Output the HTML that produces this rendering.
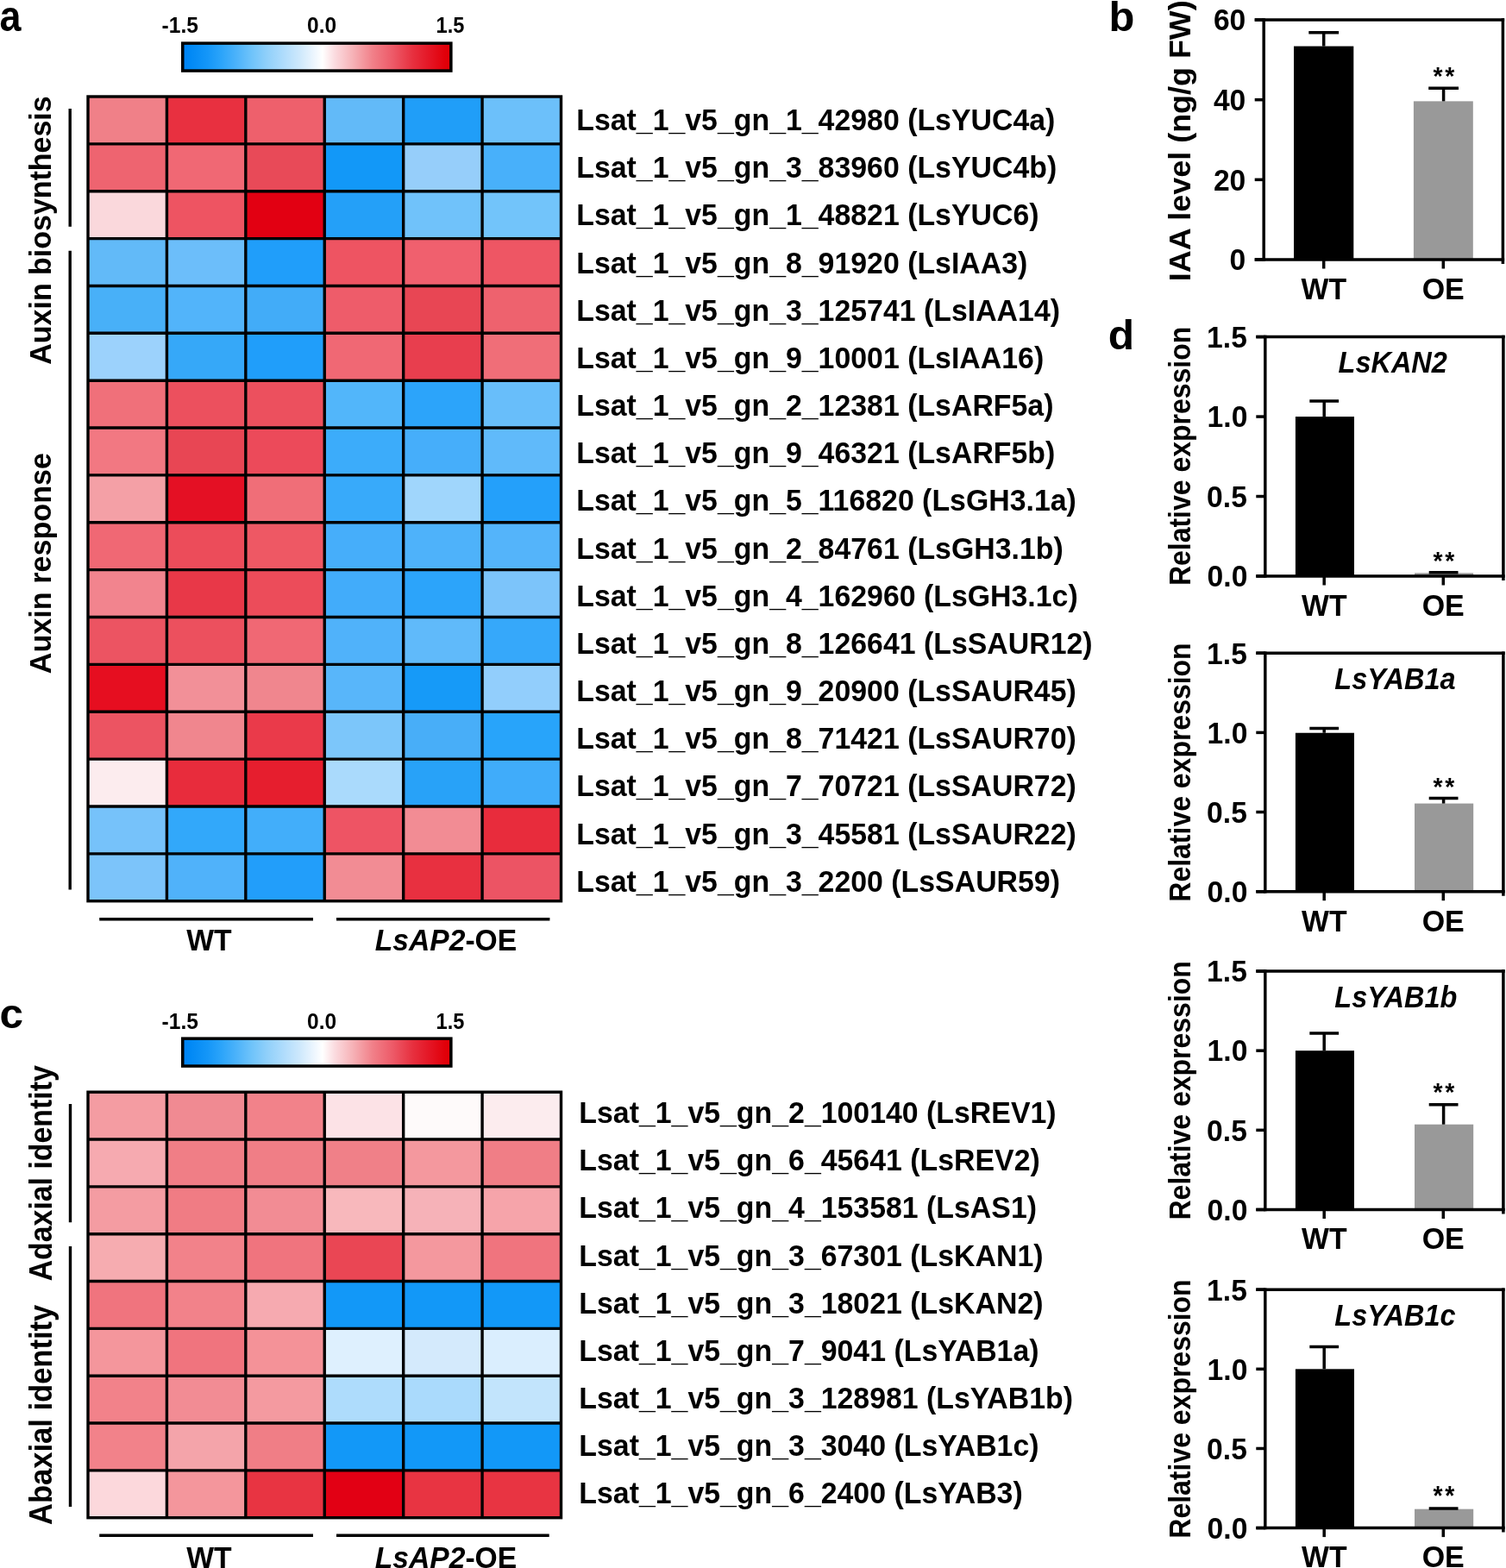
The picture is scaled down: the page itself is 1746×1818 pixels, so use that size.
<!DOCTYPE html>
<html><head><meta charset="utf-8"><title>Figure</title>
<style>
html,body{margin:0;padding:0;background:#fff;}
svg{display:block;}
text{font-family:"Liberation Sans",Arial,sans-serif;}
</style></head>
<body>
<svg width="1746" height="1818" viewBox="0 0 1746 1818">
<defs>
<linearGradient id="cb" x1="0" y1="0" x2="1" y2="0">
<stop offset="0.000" stop-color="rgb(0,130,245)"/>
<stop offset="0.025" stop-color="rgb(0,136,245)"/>
<stop offset="0.092" stop-color="rgb(20,150,248)"/>
<stop offset="0.147" stop-color="rgb(45,165,250)"/>
<stop offset="0.199" stop-color="rgb(75,178,250)"/>
<stop offset="0.256" stop-color="rgb(110,195,250)"/>
<stop offset="0.316" stop-color="rgb(145,208,250)"/>
<stop offset="0.376" stop-color="rgb(175,220,252)"/>
<stop offset="0.435" stop-color="rgb(205,232,252)"/>
<stop offset="0.486" stop-color="rgb(235,245,254)"/>
<stop offset="0.521" stop-color="rgb(255,255,255)"/>
<stop offset="0.566" stop-color="rgb(251,220,224)"/>
<stop offset="0.634" stop-color="rgb(246,178,183)"/>
<stop offset="0.708" stop-color="rgb(241,128,137)"/>
<stop offset="0.783" stop-color="rgb(237,90,104)"/>
<stop offset="0.857" stop-color="rgb(231,48,63)"/>
<stop offset="0.924" stop-color="rgb(228,20,35)"/>
<stop offset="0.977" stop-color="rgb(225,0,10)"/>
<stop offset="1.000" stop-color="rgb(224,0,5)"/>
</linearGradient>
</defs>
<rect x="0" y="0" width="1746" height="1818" fill="#fff"/>
<text transform="translate(-0.45,36.40) scale(1,1.1105)" font-size="44.860" style="font-weight:bold;" fill="#000">a</text>
<rect x="211.75" y="50.15" width="311.1" height="31.90" fill="url(#cb)" stroke="#000" stroke-width="3.5"/>
<text transform="translate(187.62,38.10) scale(1,1.0372)" font-size="24.592" style="font-weight:bold;" fill="#000">-1.5</text>
<text transform="translate(356.02,37.70) scale(1,1.0261)" font-size="24.504" style="font-weight:bold;" fill="#000">0.0</text>
<text transform="translate(505.58,37.70) scale(1,1.0807)" font-size="23.602" style="font-weight:bold;" fill="#000">1.5</text>
<rect x="102.00" y="112.00" width="91.42" height="54.86" fill="rgb(240,128,136)"/>
<rect x="193.42" y="112.00" width="91.42" height="54.86" fill="rgb(232,48,64)"/>
<rect x="284.83" y="112.00" width="91.42" height="54.86" fill="rgb(238,96,108)"/>
<rect x="376.25" y="112.00" width="91.42" height="54.86" fill="rgb(98,186,248)"/>
<rect x="467.67" y="112.00" width="91.42" height="54.86" fill="rgb(32,158,248)"/>
<rect x="559.08" y="112.00" width="91.42" height="54.86" fill="rgb(108,192,250)"/>
<rect x="102.00" y="166.86" width="91.42" height="54.86" fill="rgb(238,100,112)"/>
<rect x="193.42" y="166.86" width="91.42" height="54.86" fill="rgb(240,104,116)"/>
<rect x="284.83" y="166.86" width="91.42" height="54.86" fill="rgb(232,74,88)"/>
<rect x="376.25" y="166.86" width="91.42" height="54.86" fill="rgb(18,152,248)"/>
<rect x="467.67" y="166.86" width="91.42" height="54.86" fill="rgb(150,206,250)"/>
<rect x="559.08" y="166.86" width="91.42" height="54.86" fill="rgb(72,176,250)"/>
<rect x="102.00" y="221.73" width="91.42" height="54.86" fill="rgb(250,216,220)"/>
<rect x="193.42" y="221.73" width="91.42" height="54.86" fill="rgb(238,84,98)"/>
<rect x="284.83" y="221.73" width="91.42" height="54.86" fill="rgb(226,0,18)"/>
<rect x="376.25" y="221.73" width="91.42" height="54.86" fill="rgb(36,160,248)"/>
<rect x="467.67" y="221.73" width="91.42" height="54.86" fill="rgb(112,194,250)"/>
<rect x="559.08" y="221.73" width="91.42" height="54.86" fill="rgb(114,196,250)"/>
<rect x="102.00" y="276.59" width="91.42" height="54.86" fill="rgb(98,186,248)"/>
<rect x="193.42" y="276.59" width="91.42" height="54.86" fill="rgb(108,190,250)"/>
<rect x="284.83" y="276.59" width="91.42" height="54.86" fill="rgb(32,158,250)"/>
<rect x="376.25" y="276.59" width="91.42" height="54.86" fill="rgb(238,84,98)"/>
<rect x="467.67" y="276.59" width="91.42" height="54.86" fill="rgb(240,96,110)"/>
<rect x="559.08" y="276.59" width="91.42" height="54.86" fill="rgb(238,86,100)"/>
<rect x="102.00" y="331.46" width="91.42" height="54.86" fill="rgb(72,176,248)"/>
<rect x="193.42" y="331.46" width="91.42" height="54.86" fill="rgb(82,180,250)"/>
<rect x="284.83" y="331.46" width="91.42" height="54.86" fill="rgb(66,172,248)"/>
<rect x="376.25" y="331.46" width="91.42" height="54.86" fill="rgb(238,92,106)"/>
<rect x="467.67" y="331.46" width="91.42" height="54.86" fill="rgb(232,70,84)"/>
<rect x="559.08" y="331.46" width="91.42" height="54.86" fill="rgb(238,98,110)"/>
<rect x="102.00" y="386.32" width="91.42" height="54.86" fill="rgb(156,210,252)"/>
<rect x="193.42" y="386.32" width="91.42" height="54.86" fill="rgb(54,168,248)"/>
<rect x="284.83" y="386.32" width="91.42" height="54.86" fill="rgb(32,158,250)"/>
<rect x="376.25" y="386.32" width="91.42" height="54.86" fill="rgb(240,104,116)"/>
<rect x="467.67" y="386.32" width="91.42" height="54.86" fill="rgb(232,62,78)"/>
<rect x="559.08" y="386.32" width="91.42" height="54.86" fill="rgb(240,110,120)"/>
<rect x="102.00" y="441.19" width="91.42" height="54.86" fill="rgb(240,112,122)"/>
<rect x="193.42" y="441.19" width="91.42" height="54.86" fill="rgb(236,80,94)"/>
<rect x="284.83" y="441.19" width="91.42" height="54.86" fill="rgb(236,80,94)"/>
<rect x="376.25" y="441.19" width="91.42" height="54.86" fill="rgb(82,182,250)"/>
<rect x="467.67" y="441.19" width="91.42" height="54.86" fill="rgb(44,164,250)"/>
<rect x="559.08" y="441.19" width="91.42" height="54.86" fill="rgb(104,190,250)"/>
<rect x="102.00" y="496.05" width="91.42" height="54.86" fill="rgb(242,120,130)"/>
<rect x="193.42" y="496.05" width="91.42" height="54.86" fill="rgb(232,70,84)"/>
<rect x="284.83" y="496.05" width="91.42" height="54.86" fill="rgb(236,74,90)"/>
<rect x="376.25" y="496.05" width="91.42" height="54.86" fill="rgb(60,172,250)"/>
<rect x="467.67" y="496.05" width="91.42" height="54.86" fill="rgb(70,174,250)"/>
<rect x="559.08" y="496.05" width="91.42" height="54.86" fill="rgb(96,186,250)"/>
<rect x="102.00" y="550.92" width="91.42" height="54.86" fill="rgb(244,160,166)"/>
<rect x="193.42" y="550.92" width="91.42" height="54.86" fill="rgb(228,16,36)"/>
<rect x="284.83" y="550.92" width="91.42" height="54.86" fill="rgb(240,110,120)"/>
<rect x="376.25" y="550.92" width="91.42" height="54.86" fill="rgb(56,170,250)"/>
<rect x="467.67" y="550.92" width="91.42" height="54.86" fill="rgb(160,214,252)"/>
<rect x="559.08" y="550.92" width="91.42" height="54.86" fill="rgb(36,160,250)"/>
<rect x="102.00" y="605.78" width="91.42" height="54.86" fill="rgb(240,104,116)"/>
<rect x="193.42" y="605.78" width="91.42" height="54.86" fill="rgb(236,76,90)"/>
<rect x="284.83" y="605.78" width="91.42" height="54.86" fill="rgb(238,88,100)"/>
<rect x="376.25" y="605.78" width="91.42" height="54.86" fill="rgb(70,174,250)"/>
<rect x="467.67" y="605.78" width="91.42" height="54.86" fill="rgb(78,178,250)"/>
<rect x="559.08" y="605.78" width="91.42" height="54.86" fill="rgb(84,180,250)"/>
<rect x="102.00" y="660.65" width="91.42" height="54.86" fill="rgb(242,132,142)"/>
<rect x="193.42" y="660.65" width="91.42" height="54.86" fill="rgb(232,56,72)"/>
<rect x="284.83" y="660.65" width="91.42" height="54.86" fill="rgb(236,76,90)"/>
<rect x="376.25" y="660.65" width="91.42" height="54.86" fill="rgb(66,172,250)"/>
<rect x="467.67" y="660.65" width="91.42" height="54.86" fill="rgb(44,164,250)"/>
<rect x="559.08" y="660.65" width="91.42" height="54.86" fill="rgb(124,196,250)"/>
<rect x="102.00" y="715.51" width="91.42" height="54.86" fill="rgb(236,84,98)"/>
<rect x="193.42" y="715.51" width="91.42" height="54.86" fill="rgb(236,80,94)"/>
<rect x="284.83" y="715.51" width="91.42" height="54.86" fill="rgb(240,104,116)"/>
<rect x="376.25" y="715.51" width="91.42" height="54.86" fill="rgb(80,178,250)"/>
<rect x="467.67" y="715.51" width="91.42" height="54.86" fill="rgb(96,186,250)"/>
<rect x="559.08" y="715.51" width="91.42" height="54.86" fill="rgb(54,168,250)"/>
<rect x="102.00" y="770.38" width="91.42" height="54.86" fill="rgb(230,14,32)"/>
<rect x="193.42" y="770.38" width="91.42" height="54.86" fill="rgb(242,144,152)"/>
<rect x="284.83" y="770.38" width="91.42" height="54.86" fill="rgb(240,134,142)"/>
<rect x="376.25" y="770.38" width="91.42" height="54.86" fill="rgb(88,182,250)"/>
<rect x="467.67" y="770.38" width="91.42" height="54.86" fill="rgb(22,154,248)"/>
<rect x="559.08" y="770.38" width="91.42" height="54.86" fill="rgb(146,206,252)"/>
<rect x="102.00" y="825.24" width="91.42" height="54.86" fill="rgb(236,84,98)"/>
<rect x="193.42" y="825.24" width="91.42" height="54.86" fill="rgb(240,134,142)"/>
<rect x="284.83" y="825.24" width="91.42" height="54.86" fill="rgb(234,58,74)"/>
<rect x="376.25" y="825.24" width="91.42" height="54.86" fill="rgb(124,198,250)"/>
<rect x="467.67" y="825.24" width="91.42" height="54.86" fill="rgb(72,174,248)"/>
<rect x="559.08" y="825.24" width="91.42" height="54.86" fill="rgb(40,164,250)"/>
<rect x="102.00" y="880.11" width="91.42" height="54.86" fill="rgb(252,236,238)"/>
<rect x="193.42" y="880.11" width="91.42" height="54.86" fill="rgb(232,44,60)"/>
<rect x="284.83" y="880.11" width="91.42" height="54.86" fill="rgb(230,30,46)"/>
<rect x="376.25" y="880.11" width="91.42" height="54.86" fill="rgb(170,218,252)"/>
<rect x="467.67" y="880.11" width="91.42" height="54.86" fill="rgb(40,162,248)"/>
<rect x="559.08" y="880.11" width="91.42" height="54.86" fill="rgb(64,172,250)"/>
<rect x="102.00" y="934.97" width="91.42" height="54.86" fill="rgb(118,194,250)"/>
<rect x="193.42" y="934.97" width="91.42" height="54.86" fill="rgb(50,168,250)"/>
<rect x="284.83" y="934.97" width="91.42" height="54.86" fill="rgb(66,174,250)"/>
<rect x="376.25" y="934.97" width="91.42" height="54.86" fill="rgb(238,84,100)"/>
<rect x="467.67" y="934.97" width="91.42" height="54.86" fill="rgb(242,140,148)"/>
<rect x="559.08" y="934.97" width="91.42" height="54.86" fill="rgb(232,44,60)"/>
<rect x="102.00" y="989.84" width="91.42" height="54.86" fill="rgb(124,196,250)"/>
<rect x="193.42" y="989.84" width="91.42" height="54.86" fill="rgb(80,178,250)"/>
<rect x="284.83" y="989.84" width="91.42" height="54.86" fill="rgb(34,158,250)"/>
<rect x="376.25" y="989.84" width="91.42" height="54.86" fill="rgb(242,140,148)"/>
<rect x="467.67" y="989.84" width="91.42" height="54.86" fill="rgb(232,48,64)"/>
<rect x="559.08" y="989.84" width="91.42" height="54.86" fill="rgb(236,84,100)"/>
<line x1="193.42" y1="112.00" x2="193.42" y2="1044.70" stroke="#000" stroke-width="3.4" stroke-linecap="butt"/>
<line x1="284.83" y1="112.00" x2="284.83" y2="1044.70" stroke="#000" stroke-width="3.4" stroke-linecap="butt"/>
<line x1="376.25" y1="112.00" x2="376.25" y2="1044.70" stroke="#000" stroke-width="3.4" stroke-linecap="butt"/>
<line x1="467.67" y1="112.00" x2="467.67" y2="1044.70" stroke="#000" stroke-width="3.4" stroke-linecap="butt"/>
<line x1="559.08" y1="112.00" x2="559.08" y2="1044.70" stroke="#000" stroke-width="3.4" stroke-linecap="butt"/>
<line x1="102.00" y1="166.86" x2="650.50" y2="166.86" stroke="#000" stroke-width="3.4" stroke-linecap="butt"/>
<line x1="102.00" y1="221.73" x2="650.50" y2="221.73" stroke="#000" stroke-width="3.4" stroke-linecap="butt"/>
<line x1="102.00" y1="276.59" x2="650.50" y2="276.59" stroke="#000" stroke-width="3.4" stroke-linecap="butt"/>
<line x1="102.00" y1="331.46" x2="650.50" y2="331.46" stroke="#000" stroke-width="3.4" stroke-linecap="butt"/>
<line x1="102.00" y1="386.32" x2="650.50" y2="386.32" stroke="#000" stroke-width="3.4" stroke-linecap="butt"/>
<line x1="102.00" y1="441.19" x2="650.50" y2="441.19" stroke="#000" stroke-width="3.4" stroke-linecap="butt"/>
<line x1="102.00" y1="496.05" x2="650.50" y2="496.05" stroke="#000" stroke-width="3.4" stroke-linecap="butt"/>
<line x1="102.00" y1="550.92" x2="650.50" y2="550.92" stroke="#000" stroke-width="3.4" stroke-linecap="butt"/>
<line x1="102.00" y1="605.78" x2="650.50" y2="605.78" stroke="#000" stroke-width="3.4" stroke-linecap="butt"/>
<line x1="102.00" y1="660.65" x2="650.50" y2="660.65" stroke="#000" stroke-width="3.4" stroke-linecap="butt"/>
<line x1="102.00" y1="715.51" x2="650.50" y2="715.51" stroke="#000" stroke-width="3.4" stroke-linecap="butt"/>
<line x1="102.00" y1="770.38" x2="650.50" y2="770.38" stroke="#000" stroke-width="3.4" stroke-linecap="butt"/>
<line x1="102.00" y1="825.24" x2="650.50" y2="825.24" stroke="#000" stroke-width="3.4" stroke-linecap="butt"/>
<line x1="102.00" y1="880.11" x2="650.50" y2="880.11" stroke="#000" stroke-width="3.4" stroke-linecap="butt"/>
<line x1="102.00" y1="934.97" x2="650.50" y2="934.97" stroke="#000" stroke-width="3.4" stroke-linecap="butt"/>
<line x1="102.00" y1="989.84" x2="650.50" y2="989.84" stroke="#000" stroke-width="3.4" stroke-linecap="butt"/>
<rect x="102.00" y="112.00" width="548.50" height="932.70" fill="none" stroke="#000" stroke-width="3.4"/>
<text transform="translate(668.20,151.15) scale(1,1.0487)" font-size="33.859" style="font-weight:bold;" fill="#000">Lsat_1_v5_gn_1_42980 (LsYUC4a)</text>
<text transform="translate(668.20,206.31) scale(1,1.0487)" font-size="33.859" style="font-weight:bold;" fill="#000">Lsat_1_v5_gn_3_83960 (LsYUC4b)</text>
<text transform="translate(668.20,261.47) scale(1,1.0487)" font-size="33.859" style="font-weight:bold;" fill="#000">Lsat_1_v5_gn_1_48821 (LsYUC6)</text>
<text transform="translate(668.20,316.63) scale(1,1.0487)" font-size="33.859" style="font-weight:bold;" fill="#000">Lsat_1_v5_gn_8_91920 (LsIAA3)</text>
<text transform="translate(668.20,371.79) scale(1,1.0487)" font-size="33.859" style="font-weight:bold;" fill="#000">Lsat_1_v5_gn_3_125741 (LsIAA14)</text>
<text transform="translate(668.20,426.95) scale(1,1.0487)" font-size="33.859" style="font-weight:bold;" fill="#000">Lsat_1_v5_gn_9_10001 (LsIAA16)</text>
<text transform="translate(668.20,482.11) scale(1,1.0487)" font-size="33.859" style="font-weight:bold;" fill="#000">Lsat_1_v5_gn_2_12381 (LsARF5a)</text>
<text transform="translate(668.20,537.27) scale(1,1.0487)" font-size="33.859" style="font-weight:bold;" fill="#000">Lsat_1_v5_gn_9_46321 (LsARF5b)</text>
<text transform="translate(668.20,592.43) scale(1,1.0487)" font-size="33.859" style="font-weight:bold;" fill="#000">Lsat_1_v5_gn_5_116820 (LsGH3.1a)</text>
<text transform="translate(668.20,647.59) scale(1,1.0487)" font-size="33.859" style="font-weight:bold;" fill="#000">Lsat_1_v5_gn_2_84761 (LsGH3.1b)</text>
<text transform="translate(668.20,702.75) scale(1,1.0487)" font-size="33.859" style="font-weight:bold;" fill="#000">Lsat_1_v5_gn_4_162960 (LsGH3.1c)</text>
<text transform="translate(668.20,757.91) scale(1,1.0487)" font-size="33.859" style="font-weight:bold;" fill="#000">Lsat_1_v5_gn_8_126641 (LsSAUR12)</text>
<text transform="translate(668.20,813.07) scale(1,1.0487)" font-size="33.859" style="font-weight:bold;" fill="#000">Lsat_1_v5_gn_9_20900 (LsSAUR45)</text>
<text transform="translate(668.20,868.23) scale(1,1.0487)" font-size="33.859" style="font-weight:bold;" fill="#000">Lsat_1_v5_gn_8_71421 (LsSAUR70)</text>
<text transform="translate(668.20,923.39) scale(1,1.0487)" font-size="33.859" style="font-weight:bold;" fill="#000">Lsat_1_v5_gn_7_70721 (LsSAUR72)</text>
<text transform="translate(668.20,978.55) scale(1,1.0487)" font-size="33.859" style="font-weight:bold;" fill="#000">Lsat_1_v5_gn_3_45581 (LsSAUR22)</text>
<text transform="translate(668.20,1033.71) scale(1,1.0487)" font-size="33.859" style="font-weight:bold;" fill="#000">Lsat_1_v5_gn_3_2200 (LsSAUR59)</text>
<text transform="translate(58.80,422.65) rotate(-90) scale(1,1.0282)" font-size="33.970" style="font-weight:bold;" fill="#000">Auxin biosynthesis</text>
<text transform="translate(58.80,781.25) rotate(-90) scale(1,1.0223)" font-size="34.167" style="font-weight:bold;" fill="#000">Auxin response</text>
<line x1="81.20" y1="126.00" x2="81.20" y2="262.80" stroke="#000" stroke-width="3.4" stroke-linecap="butt"/>
<line x1="81.20" y1="290.70" x2="81.20" y2="1031.60" stroke="#000" stroke-width="3.4" stroke-linecap="butt"/>
<line x1="115.20" y1="1065.80" x2="363.00" y2="1065.80" stroke="#000" stroke-width="3.6" stroke-linecap="butt"/>
<line x1="390.00" y1="1065.80" x2="637.40" y2="1065.80" stroke="#000" stroke-width="3.6" stroke-linecap="butt"/>
<text transform="translate(216.30,1102.10) scale(1,1.0530)" font-size="33.722" style="font-weight:bold;" fill="#000">WT</text>
<text transform="translate(434.63,1102.10) scale(1,1.0545)" font-size="33.671" style="font-weight:bold;font-style:italic;" fill="#000"><tspan style="font-style:italic">LsAP2</tspan><tspan style="font-style:normal">-OE</tspan></text>
<text transform="translate(-0.58,1191.90) scale(1,0.9767)" font-size="49.485" style="font-weight:bold;" fill="#000">c</text>
<rect x="211.75" y="1204.15" width="311.1" height="31.90" fill="url(#cb)" stroke="#000" stroke-width="3.5"/>
<text transform="translate(187.62,1193.10) scale(1,1.0372)" font-size="24.592" style="font-weight:bold;" fill="#000">-1.5</text>
<text transform="translate(356.02,1192.70) scale(1,1.0261)" font-size="24.504" style="font-weight:bold;" fill="#000">0.0</text>
<text transform="translate(505.58,1192.70) scale(1,1.0807)" font-size="23.602" style="font-weight:bold;" fill="#000">1.5</text>
<rect x="102.00" y="1266.20" width="91.42" height="54.83" fill="rgb(244,156,162)"/>
<rect x="193.42" y="1266.20" width="91.42" height="54.83" fill="rgb(240,138,146)"/>
<rect x="284.83" y="1266.20" width="91.42" height="54.83" fill="rgb(242,130,138)"/>
<rect x="376.25" y="1266.20" width="91.42" height="54.83" fill="rgb(252,226,230)"/>
<rect x="467.67" y="1266.20" width="91.42" height="54.83" fill="rgb(254,250,250)"/>
<rect x="559.08" y="1266.20" width="91.42" height="54.83" fill="rgb(252,236,238)"/>
<rect x="102.00" y="1321.03" width="91.42" height="54.83" fill="rgb(246,170,176)"/>
<rect x="193.42" y="1321.03" width="91.42" height="54.83" fill="rgb(240,126,134)"/>
<rect x="284.83" y="1321.03" width="91.42" height="54.83" fill="rgb(240,126,134)"/>
<rect x="376.25" y="1321.03" width="91.42" height="54.83" fill="rgb(240,128,136)"/>
<rect x="467.67" y="1321.03" width="91.42" height="54.83" fill="rgb(244,152,158)"/>
<rect x="559.08" y="1321.03" width="91.42" height="54.83" fill="rgb(240,126,134)"/>
<rect x="102.00" y="1375.87" width="91.42" height="54.83" fill="rgb(244,156,162)"/>
<rect x="193.42" y="1375.87" width="91.42" height="54.83" fill="rgb(240,124,132)"/>
<rect x="284.83" y="1375.87" width="91.42" height="54.83" fill="rgb(242,140,148)"/>
<rect x="376.25" y="1375.87" width="91.42" height="54.83" fill="rgb(248,184,188)"/>
<rect x="467.67" y="1375.87" width="91.42" height="54.83" fill="rgb(246,178,184)"/>
<rect x="559.08" y="1375.87" width="91.42" height="54.83" fill="rgb(246,164,170)"/>
<rect x="102.00" y="1430.70" width="91.42" height="54.83" fill="rgb(246,172,176)"/>
<rect x="193.42" y="1430.70" width="91.42" height="54.83" fill="rgb(242,130,138)"/>
<rect x="284.83" y="1430.70" width="91.42" height="54.83" fill="rgb(240,116,126)"/>
<rect x="376.25" y="1430.70" width="91.42" height="54.83" fill="rgb(234,70,84)"/>
<rect x="467.67" y="1430.70" width="91.42" height="54.83" fill="rgb(244,152,158)"/>
<rect x="559.08" y="1430.70" width="91.42" height="54.83" fill="rgb(240,116,126)"/>
<rect x="102.00" y="1485.53" width="91.42" height="54.83" fill="rgb(240,116,126)"/>
<rect x="193.42" y="1485.53" width="91.42" height="54.83" fill="rgb(242,130,138)"/>
<rect x="284.83" y="1485.53" width="91.42" height="54.83" fill="rgb(246,170,176)"/>
<rect x="376.25" y="1485.53" width="91.42" height="54.83" fill="rgb(18,152,248)"/>
<rect x="467.67" y="1485.53" width="91.42" height="54.83" fill="rgb(18,152,248)"/>
<rect x="559.08" y="1485.53" width="91.42" height="54.83" fill="rgb(18,152,248)"/>
<rect x="102.00" y="1540.37" width="91.42" height="54.83" fill="rgb(244,150,156)"/>
<rect x="193.42" y="1540.37" width="91.42" height="54.83" fill="rgb(240,116,126)"/>
<rect x="284.83" y="1540.37" width="91.42" height="54.83" fill="rgb(244,146,152)"/>
<rect x="376.25" y="1540.37" width="91.42" height="54.83" fill="rgb(222,240,254)"/>
<rect x="467.67" y="1540.37" width="91.42" height="54.83" fill="rgb(212,234,252)"/>
<rect x="559.08" y="1540.37" width="91.42" height="54.83" fill="rgb(218,238,254)"/>
<rect x="102.00" y="1595.20" width="91.42" height="54.83" fill="rgb(242,130,138)"/>
<rect x="193.42" y="1595.20" width="91.42" height="54.83" fill="rgb(242,140,148)"/>
<rect x="284.83" y="1595.20" width="91.42" height="54.83" fill="rgb(244,154,160)"/>
<rect x="376.25" y="1595.20" width="91.42" height="54.83" fill="rgb(174,220,252)"/>
<rect x="467.67" y="1595.20" width="91.42" height="54.83" fill="rgb(170,218,252)"/>
<rect x="559.08" y="1595.20" width="91.42" height="54.83" fill="rgb(194,228,252)"/>
<rect x="102.00" y="1650.03" width="91.42" height="54.83" fill="rgb(242,130,138)"/>
<rect x="193.42" y="1650.03" width="91.42" height="54.83" fill="rgb(244,164,170)"/>
<rect x="284.83" y="1650.03" width="91.42" height="54.83" fill="rgb(240,126,134)"/>
<rect x="376.25" y="1650.03" width="91.42" height="54.83" fill="rgb(18,152,248)"/>
<rect x="467.67" y="1650.03" width="91.42" height="54.83" fill="rgb(18,152,248)"/>
<rect x="559.08" y="1650.03" width="91.42" height="54.83" fill="rgb(18,152,248)"/>
<rect x="102.00" y="1704.87" width="91.42" height="54.83" fill="rgb(252,216,220)"/>
<rect x="193.42" y="1704.87" width="91.42" height="54.83" fill="rgb(244,150,156)"/>
<rect x="284.83" y="1704.87" width="91.42" height="54.83" fill="rgb(232,52,66)"/>
<rect x="376.25" y="1704.87" width="91.42" height="54.83" fill="rgb(226,0,20)"/>
<rect x="467.67" y="1704.87" width="91.42" height="54.83" fill="rgb(232,52,66)"/>
<rect x="559.08" y="1704.87" width="91.42" height="54.83" fill="rgb(232,52,66)"/>
<line x1="193.42" y1="1266.20" x2="193.42" y2="1759.70" stroke="#000" stroke-width="3.4" stroke-linecap="butt"/>
<line x1="284.83" y1="1266.20" x2="284.83" y2="1759.70" stroke="#000" stroke-width="3.4" stroke-linecap="butt"/>
<line x1="376.25" y1="1266.20" x2="376.25" y2="1759.70" stroke="#000" stroke-width="3.4" stroke-linecap="butt"/>
<line x1="467.67" y1="1266.20" x2="467.67" y2="1759.70" stroke="#000" stroke-width="3.4" stroke-linecap="butt"/>
<line x1="559.08" y1="1266.20" x2="559.08" y2="1759.70" stroke="#000" stroke-width="3.4" stroke-linecap="butt"/>
<line x1="102.00" y1="1321.03" x2="650.50" y2="1321.03" stroke="#000" stroke-width="3.4" stroke-linecap="butt"/>
<line x1="102.00" y1="1375.87" x2="650.50" y2="1375.87" stroke="#000" stroke-width="3.4" stroke-linecap="butt"/>
<line x1="102.00" y1="1430.70" x2="650.50" y2="1430.70" stroke="#000" stroke-width="3.4" stroke-linecap="butt"/>
<line x1="102.00" y1="1485.53" x2="650.50" y2="1485.53" stroke="#000" stroke-width="3.4" stroke-linecap="butt"/>
<line x1="102.00" y1="1540.37" x2="650.50" y2="1540.37" stroke="#000" stroke-width="3.4" stroke-linecap="butt"/>
<line x1="102.00" y1="1595.20" x2="650.50" y2="1595.20" stroke="#000" stroke-width="3.4" stroke-linecap="butt"/>
<line x1="102.00" y1="1650.03" x2="650.50" y2="1650.03" stroke="#000" stroke-width="3.4" stroke-linecap="butt"/>
<line x1="102.00" y1="1704.87" x2="650.50" y2="1704.87" stroke="#000" stroke-width="3.4" stroke-linecap="butt"/>
<rect x="102.00" y="1266.20" width="548.50" height="493.50" fill="none" stroke="#000" stroke-width="3.4"/>
<text transform="translate(671.30,1302.05) scale(1,1.0487)" font-size="33.859" style="font-weight:bold;" fill="#000">Lsat_1_v5_gn_2_100140 (LsREV1)</text>
<text transform="translate(671.30,1357.21) scale(1,1.0487)" font-size="33.859" style="font-weight:bold;" fill="#000">Lsat_1_v5_gn_6_45641 (LsREV2)</text>
<text transform="translate(671.30,1412.37) scale(1,1.0487)" font-size="33.859" style="font-weight:bold;" fill="#000">Lsat_1_v5_gn_4_153581 (LsAS1)</text>
<text transform="translate(671.30,1467.53) scale(1,1.0487)" font-size="33.859" style="font-weight:bold;" fill="#000">Lsat_1_v5_gn_3_67301 (LsKAN1)</text>
<text transform="translate(671.30,1522.69) scale(1,1.0487)" font-size="33.859" style="font-weight:bold;" fill="#000">Lsat_1_v5_gn_3_18021 (LsKAN2)</text>
<text transform="translate(671.30,1577.85) scale(1,1.0487)" font-size="33.859" style="font-weight:bold;" fill="#000">Lsat_1_v5_gn_7_9041 (LsYAB1a)</text>
<text transform="translate(671.30,1633.01) scale(1,1.0487)" font-size="33.859" style="font-weight:bold;" fill="#000">Lsat_1_v5_gn_3_128981 (LsYAB1b)</text>
<text transform="translate(671.30,1688.17) scale(1,1.0487)" font-size="33.859" style="font-weight:bold;" fill="#000">Lsat_1_v5_gn_3_3040 (LsYAB1c)</text>
<text transform="translate(671.30,1743.33) scale(1,1.0487)" font-size="33.859" style="font-weight:bold;" fill="#000">Lsat_1_v5_gn_6_2400 (LsYAB3)</text>
<text transform="translate(59.50,1485.35) rotate(-90) scale(1,1.0962)" font-size="33.845" style="font-weight:bold;" fill="#000">Adaxial identity</text>
<text transform="translate(59.50,1768.06) rotate(-90) scale(1,1.0734)" font-size="34.565" style="font-weight:bold;" fill="#000">Abaxial identity</text>
<line x1="81.50" y1="1280.10" x2="81.50" y2="1417.30" stroke="#000" stroke-width="3.4" stroke-linecap="butt"/>
<line x1="81.50" y1="1445.00" x2="81.50" y2="1747.10" stroke="#000" stroke-width="3.4" stroke-linecap="butt"/>
<line x1="115.20" y1="1780.30" x2="363.00" y2="1780.30" stroke="#000" stroke-width="3.6" stroke-linecap="butt"/>
<line x1="390.00" y1="1780.30" x2="636.70" y2="1780.30" stroke="#000" stroke-width="3.6" stroke-linecap="butt"/>
<text transform="translate(216.30,1817.50) scale(1,1.0530)" font-size="33.722" style="font-weight:bold;" fill="#000">WT</text>
<text transform="translate(434.63,1817.50) scale(1,1.0545)" font-size="33.671" style="font-weight:bold;font-style:italic;" fill="#000"><tspan style="font-style:italic">LsAP2</tspan><tspan style="font-style:normal">-OE</tspan></text>
<text transform="translate(1285.42,36.30) scale(1,0.9955)" font-size="48.911" style="font-weight:bold;" fill="#000">b</text>
<rect x="1500.00" y="53.58" width="69.30" height="247.42" fill="#000"/>
<rect x="1638.90" y="117.38" width="68.90" height="183.62" fill="#999999"/>
<line x1="1534.70" y1="53.58" x2="1534.70" y2="37.83" stroke="#000" stroke-width="3.5" stroke-linecap="butt"/>
<line x1="1517.30" y1="37.83" x2="1552.10" y2="37.83" stroke="#000" stroke-width="3.5" stroke-linecap="butt"/>
<line x1="1673.60" y1="117.38" x2="1673.60" y2="102.23" stroke="#000" stroke-width="3.5" stroke-linecap="butt"/>
<line x1="1656.20" y1="102.23" x2="1691.00" y2="102.23" stroke="#000" stroke-width="3.5" stroke-linecap="butt"/>
<line x1="1465.20" y1="21.25" x2="1465.20" y2="302.75" stroke="#000" stroke-width="3.5" stroke-linecap="butt"/>
<line x1="1454.70" y1="23.00" x2="1744.15" y2="23.00" stroke="#000" stroke-width="3.5" stroke-linecap="butt"/>
<line x1="1454.70" y1="301.00" x2="1744.15" y2="301.00" stroke="#000" stroke-width="3.5" stroke-linecap="butt"/>
<line x1="1742.40" y1="21.25" x2="1742.40" y2="306.00" stroke="#000" stroke-width="3.5" stroke-linecap="butt"/>
<line x1="1454.70" y1="301.00" x2="1465.20" y2="301.00" stroke="#000" stroke-width="3.5" stroke-linecap="butt"/>
<line x1="1454.70" y1="208.33" x2="1465.20" y2="208.33" stroke="#000" stroke-width="3.5" stroke-linecap="butt"/>
<line x1="1454.70" y1="115.67" x2="1465.20" y2="115.67" stroke="#000" stroke-width="3.5" stroke-linecap="butt"/>
<line x1="1454.70" y1="23.00" x2="1465.20" y2="23.00" stroke="#000" stroke-width="3.5" stroke-linecap="butt"/>
<line x1="1534.70" y1="301.00" x2="1534.70" y2="311.50" stroke="#000" stroke-width="3.5" stroke-linecap="butt"/>
<line x1="1673.30" y1="301.00" x2="1673.30" y2="311.50" stroke="#000" stroke-width="3.5" stroke-linecap="butt"/>
<text transform="translate(1425.58,313.30) scale(1,1.0450)" font-size="33.630" style="font-weight:bold;" fill="#000">0</text>
<text transform="translate(1406.92,220.63) scale(1,1.0450)" font-size="33.630" style="font-weight:bold;" fill="#000">20</text>
<text transform="translate(1406.92,127.97) scale(1,1.0450)" font-size="33.630" style="font-weight:bold;" fill="#000">40</text>
<text transform="translate(1406.92,35.30) scale(1,1.0450)" font-size="33.630" style="font-weight:bold;" fill="#000">60</text>
<text transform="translate(1508.60,346.80) scale(1,1.0638)" font-size="33.786" style="font-weight:bold;" fill="#000">WT</text>
<text transform="translate(1648.64,346.80) scale(1,1.0416)" font-size="34.015" style="font-weight:bold;" fill="#000">OE</text>
<text transform="translate(0,97.59) scale(1,1.0651)" font-size="28.421" style="font-weight:bold" x="1661.46 1675.26" y="0">**</text>
<text transform="translate(1379.70,326.13) rotate(-90) scale(1,0.9604)" font-size="35.915" style="font-weight:bold;" fill="#000">IAA level (ng/g FW)</text>
<text transform="translate(1284.71,405.00) scale(1,0.9713)" font-size="49.703" style="font-weight:bold;" fill="#000">d</text>
<rect x="1501.90" y="483.07" width="68.10" height="184.93" fill="#000"/>
<rect x="1640.00" y="664.39" width="68.20" height="3.61" fill="#999999"/>
<line x1="1535.20" y1="483.07" x2="1535.20" y2="464.94" stroke="#000" stroke-width="3.5" stroke-linecap="butt"/>
<line x1="1518.30" y1="464.94" x2="1552.10" y2="464.94" stroke="#000" stroke-width="3.5" stroke-linecap="butt"/>
<line x1="1656.70" y1="663.75" x2="1690.50" y2="663.75" stroke="#000" stroke-width="3.5" stroke-linecap="butt"/>
<line x1="1466.80" y1="388.85" x2="1466.80" y2="669.75" stroke="#000" stroke-width="3.5" stroke-linecap="butt"/>
<line x1="1456.30" y1="390.60" x2="1744.65" y2="390.60" stroke="#000" stroke-width="3.5" stroke-linecap="butt"/>
<line x1="1456.30" y1="668.00" x2="1744.65" y2="668.00" stroke="#000" stroke-width="3.5" stroke-linecap="butt"/>
<line x1="1742.90" y1="388.85" x2="1742.90" y2="673.00" stroke="#000" stroke-width="3.5" stroke-linecap="butt"/>
<line x1="1456.30" y1="668.00" x2="1466.80" y2="668.00" stroke="#000" stroke-width="3.5" stroke-linecap="butt"/>
<line x1="1456.30" y1="575.53" x2="1466.80" y2="575.53" stroke="#000" stroke-width="3.5" stroke-linecap="butt"/>
<line x1="1456.30" y1="483.07" x2="1466.80" y2="483.07" stroke="#000" stroke-width="3.5" stroke-linecap="butt"/>
<line x1="1456.30" y1="390.60" x2="1466.80" y2="390.60" stroke="#000" stroke-width="3.5" stroke-linecap="butt"/>
<line x1="1535.20" y1="668.00" x2="1535.20" y2="678.50" stroke="#000" stroke-width="3.5" stroke-linecap="butt"/>
<line x1="1673.30" y1="668.00" x2="1673.30" y2="678.50" stroke="#000" stroke-width="3.5" stroke-linecap="butt"/>
<text transform="translate(1399.60,680.30) scale(1,1.0450)" font-size="33.630" style="font-weight:bold;" fill="#000">0.0</text>
<text transform="translate(1399.10,587.83) scale(1,1.0450)" font-size="33.630" style="font-weight:bold;" fill="#000">0.5</text>
<text transform="translate(1399.60,495.37) scale(1,1.0450)" font-size="33.630" style="font-weight:bold;" fill="#000">1.0</text>
<text transform="translate(1399.10,402.90) scale(1,1.0450)" font-size="33.630" style="font-weight:bold;" fill="#000">1.5</text>
<text transform="translate(1509.10,713.80) scale(1,1.0638)" font-size="33.786" style="font-weight:bold;" fill="#000">WT</text>
<text transform="translate(1648.64,713.80) scale(1,1.0416)" font-size="34.015" style="font-weight:bold;" fill="#000">OE</text>
<text transform="translate(0,659.60) scale(1,1.0556)" font-size="28.421" style="font-weight:bold" x="1661.46 1675.26" y="0">**</text>
<text transform="translate(1380.10,679.08) rotate(-90) scale(1,1.1150)" font-size="31.974" style="font-weight:bold;" fill="#000">Relative expression</text>
<text transform="translate(1551.55,432.40) scale(1,1.0707)" font-size="32.487" style="font-weight:bold;font-style:italic;" fill="#000">LsKAN2</text>
<rect x="1501.90" y="849.74" width="68.10" height="183.96" fill="#000"/>
<rect x="1640.00" y="931.58" width="68.20" height="102.12" fill="#999999"/>
<line x1="1535.20" y1="849.74" x2="1535.20" y2="844.39" stroke="#000" stroke-width="3.5" stroke-linecap="butt"/>
<line x1="1518.30" y1="844.39" x2="1552.10" y2="844.39" stroke="#000" stroke-width="3.5" stroke-linecap="butt"/>
<line x1="1673.60" y1="931.58" x2="1673.60" y2="925.50" stroke="#000" stroke-width="3.5" stroke-linecap="butt"/>
<line x1="1656.70" y1="925.50" x2="1690.50" y2="925.50" stroke="#000" stroke-width="3.5" stroke-linecap="butt"/>
<line x1="1466.80" y1="755.45" x2="1466.80" y2="1035.45" stroke="#000" stroke-width="3.5" stroke-linecap="butt"/>
<line x1="1456.30" y1="757.20" x2="1744.65" y2="757.20" stroke="#000" stroke-width="3.5" stroke-linecap="butt"/>
<line x1="1456.30" y1="1033.70" x2="1744.65" y2="1033.70" stroke="#000" stroke-width="3.5" stroke-linecap="butt"/>
<line x1="1742.90" y1="755.45" x2="1742.90" y2="1038.70" stroke="#000" stroke-width="3.5" stroke-linecap="butt"/>
<line x1="1456.30" y1="1033.70" x2="1466.80" y2="1033.70" stroke="#000" stroke-width="3.5" stroke-linecap="butt"/>
<line x1="1456.30" y1="941.53" x2="1466.80" y2="941.53" stroke="#000" stroke-width="3.5" stroke-linecap="butt"/>
<line x1="1456.30" y1="849.37" x2="1466.80" y2="849.37" stroke="#000" stroke-width="3.5" stroke-linecap="butt"/>
<line x1="1456.30" y1="757.20" x2="1466.80" y2="757.20" stroke="#000" stroke-width="3.5" stroke-linecap="butt"/>
<line x1="1535.20" y1="1033.70" x2="1535.20" y2="1044.20" stroke="#000" stroke-width="3.5" stroke-linecap="butt"/>
<line x1="1673.30" y1="1033.70" x2="1673.30" y2="1044.20" stroke="#000" stroke-width="3.5" stroke-linecap="butt"/>
<text transform="translate(1399.60,1046.00) scale(1,1.0450)" font-size="33.630" style="font-weight:bold;" fill="#000">0.0</text>
<text transform="translate(1399.10,953.83) scale(1,1.0450)" font-size="33.630" style="font-weight:bold;" fill="#000">0.5</text>
<text transform="translate(1399.60,861.67) scale(1,1.0450)" font-size="33.630" style="font-weight:bold;" fill="#000">1.0</text>
<text transform="translate(1399.10,769.50) scale(1,1.0450)" font-size="33.630" style="font-weight:bold;" fill="#000">1.5</text>
<text transform="translate(1509.10,1079.50) scale(1,1.0638)" font-size="33.786" style="font-weight:bold;" fill="#000">WT</text>
<text transform="translate(1648.64,1079.50) scale(1,1.0416)" font-size="34.015" style="font-weight:bold;" fill="#000">OE</text>
<text transform="translate(0,921.81) scale(1,1.0460)" font-size="28.421" style="font-weight:bold" x="1661.46 1675.26" y="0">**</text>
<text transform="translate(1380.10,1045.68) rotate(-90) scale(1,1.1150)" font-size="31.974" style="font-weight:bold;" fill="#000">Relative expression</text>
<text transform="translate(1547.35,799.00) scale(1,1.0707)" font-size="32.487" style="font-weight:bold;font-style:italic;" fill="#000">LsYAB1a</text>
<rect x="1501.90" y="1218.17" width="68.10" height="184.33" fill="#000"/>
<rect x="1640.00" y="1303.70" width="68.20" height="98.80" fill="#999999"/>
<line x1="1535.20" y1="1218.17" x2="1535.20" y2="1197.89" stroke="#000" stroke-width="3.5" stroke-linecap="butt"/>
<line x1="1518.30" y1="1197.89" x2="1552.10" y2="1197.89" stroke="#000" stroke-width="3.5" stroke-linecap="butt"/>
<line x1="1673.60" y1="1303.70" x2="1673.60" y2="1280.84" stroke="#000" stroke-width="3.5" stroke-linecap="butt"/>
<line x1="1656.70" y1="1280.84" x2="1690.50" y2="1280.84" stroke="#000" stroke-width="3.5" stroke-linecap="butt"/>
<line x1="1466.80" y1="1124.25" x2="1466.80" y2="1404.25" stroke="#000" stroke-width="3.5" stroke-linecap="butt"/>
<line x1="1456.30" y1="1126.00" x2="1744.65" y2="1126.00" stroke="#000" stroke-width="3.5" stroke-linecap="butt"/>
<line x1="1456.30" y1="1402.50" x2="1744.65" y2="1402.50" stroke="#000" stroke-width="3.5" stroke-linecap="butt"/>
<line x1="1742.90" y1="1124.25" x2="1742.90" y2="1407.50" stroke="#000" stroke-width="3.5" stroke-linecap="butt"/>
<line x1="1456.30" y1="1402.50" x2="1466.80" y2="1402.50" stroke="#000" stroke-width="3.5" stroke-linecap="butt"/>
<line x1="1456.30" y1="1310.33" x2="1466.80" y2="1310.33" stroke="#000" stroke-width="3.5" stroke-linecap="butt"/>
<line x1="1456.30" y1="1218.17" x2="1466.80" y2="1218.17" stroke="#000" stroke-width="3.5" stroke-linecap="butt"/>
<line x1="1456.30" y1="1126.00" x2="1466.80" y2="1126.00" stroke="#000" stroke-width="3.5" stroke-linecap="butt"/>
<line x1="1535.20" y1="1402.50" x2="1535.20" y2="1413.00" stroke="#000" stroke-width="3.5" stroke-linecap="butt"/>
<line x1="1673.30" y1="1402.50" x2="1673.30" y2="1413.00" stroke="#000" stroke-width="3.5" stroke-linecap="butt"/>
<text transform="translate(1399.60,1414.80) scale(1,1.0450)" font-size="33.630" style="font-weight:bold;" fill="#000">0.0</text>
<text transform="translate(1399.10,1322.63) scale(1,1.0450)" font-size="33.630" style="font-weight:bold;" fill="#000">0.5</text>
<text transform="translate(1399.60,1230.47) scale(1,1.0450)" font-size="33.630" style="font-weight:bold;" fill="#000">1.0</text>
<text transform="translate(1399.10,1138.30) scale(1,1.0450)" font-size="33.630" style="font-weight:bold;" fill="#000">1.5</text>
<text transform="translate(1509.10,1448.30) scale(1,1.0638)" font-size="33.786" style="font-weight:bold;" fill="#000">WT</text>
<text transform="translate(1648.64,1448.30) scale(1,1.0416)" font-size="34.015" style="font-weight:bold;" fill="#000">OE</text>
<text transform="translate(0,1276.11) scale(1,1.0460)" font-size="28.421" style="font-weight:bold" x="1661.46 1675.26" y="0">**</text>
<text transform="translate(1380.10,1414.48) rotate(-90) scale(1,1.1150)" font-size="31.974" style="font-weight:bold;" fill="#000">Relative expression</text>
<text transform="translate(1547.35,1167.80) scale(1,1.0707)" font-size="32.487" style="font-weight:bold;font-style:italic;" fill="#000">LsYAB1b</text>
<rect x="1501.90" y="1587.33" width="68.10" height="184.27" fill="#000"/>
<rect x="1640.00" y="1749.67" width="68.20" height="21.93" fill="#999999"/>
<line x1="1535.20" y1="1587.33" x2="1535.20" y2="1561.54" stroke="#000" stroke-width="3.5" stroke-linecap="butt"/>
<line x1="1518.30" y1="1561.54" x2="1552.10" y2="1561.54" stroke="#000" stroke-width="3.5" stroke-linecap="butt"/>
<line x1="1656.70" y1="1748.94" x2="1690.50" y2="1748.94" stroke="#000" stroke-width="3.5" stroke-linecap="butt"/>
<line x1="1466.80" y1="1493.45" x2="1466.80" y2="1773.35" stroke="#000" stroke-width="3.5" stroke-linecap="butt"/>
<line x1="1456.30" y1="1495.20" x2="1744.65" y2="1495.20" stroke="#000" stroke-width="3.5" stroke-linecap="butt"/>
<line x1="1456.30" y1="1771.60" x2="1744.65" y2="1771.60" stroke="#000" stroke-width="3.5" stroke-linecap="butt"/>
<line x1="1742.90" y1="1493.45" x2="1742.90" y2="1776.60" stroke="#000" stroke-width="3.5" stroke-linecap="butt"/>
<line x1="1456.30" y1="1771.60" x2="1466.80" y2="1771.60" stroke="#000" stroke-width="3.5" stroke-linecap="butt"/>
<line x1="1456.30" y1="1679.47" x2="1466.80" y2="1679.47" stroke="#000" stroke-width="3.5" stroke-linecap="butt"/>
<line x1="1456.30" y1="1587.33" x2="1466.80" y2="1587.33" stroke="#000" stroke-width="3.5" stroke-linecap="butt"/>
<line x1="1456.30" y1="1495.20" x2="1466.80" y2="1495.20" stroke="#000" stroke-width="3.5" stroke-linecap="butt"/>
<line x1="1535.20" y1="1771.60" x2="1535.20" y2="1782.10" stroke="#000" stroke-width="3.5" stroke-linecap="butt"/>
<line x1="1673.30" y1="1771.60" x2="1673.30" y2="1782.10" stroke="#000" stroke-width="3.5" stroke-linecap="butt"/>
<text transform="translate(1399.60,1783.90) scale(1,1.0450)" font-size="33.630" style="font-weight:bold;" fill="#000">0.0</text>
<text transform="translate(1399.10,1691.77) scale(1,1.0450)" font-size="33.630" style="font-weight:bold;" fill="#000">0.5</text>
<text transform="translate(1399.60,1599.63) scale(1,1.0450)" font-size="33.630" style="font-weight:bold;" fill="#000">1.0</text>
<text transform="translate(1399.10,1507.50) scale(1,1.0450)" font-size="33.630" style="font-weight:bold;" fill="#000">1.5</text>
<text transform="translate(1509.10,1817.40) scale(1,1.0638)" font-size="33.786" style="font-weight:bold;" fill="#000">WT</text>
<text transform="translate(1648.64,1817.40) scale(1,1.0416)" font-size="34.015" style="font-weight:bold;" fill="#000">OE</text>
<text transform="translate(0,1745.33) scale(1,1.1031)" font-size="28.421" style="font-weight:bold" x="1661.46 1675.26" y="0">**</text>
<text transform="translate(1380.10,1783.68) rotate(-90) scale(1,1.1150)" font-size="31.974" style="font-weight:bold;" fill="#000">Relative expression</text>
<text transform="translate(1547.35,1537.00) scale(1,1.0707)" font-size="32.487" style="font-weight:bold;font-style:italic;" fill="#000">LsYAB1c</text>
</svg>
</body></html>
